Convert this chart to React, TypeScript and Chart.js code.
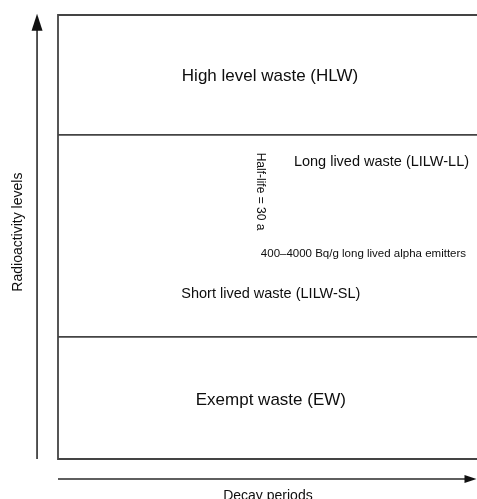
import React, { useEffect, useRef } from "react";
import { Chart, registerables } from "chart.js";

Chart.register(...registerables);

// Band boundaries on the radioactivity axis (0 = bottom, 100 = top)
const bandBounds = [0, 27.5, 73, 100];
// Decay-period axis extent
const decayRange = [0, 100];

// Category labels
const categories = [
  "High level waste (HLW)",
  "Long lived waste (LILW-LL)",
  "Half-life = 30 a",
  "400–4000 Bq/g long lived alpha emitters",
  "Short lived waste (LILW-SL)",
  "Exempt waste (EW)",
];
const labelX = [50.6, 77.2, 48.4, 72.9, 50.8, 50.8];
const labelY = [86.3, 67.0, 60.25, 46.3, 37.2, 13.3];

const yAxisTitle = "Radioactivity levels";
const xAxisTitle = "Decay periods";

const FONT = "'Liberation Sans', Arial, Helvetica, sans-serif";
const labelFont = [17, 14.5, 12, 11.5, 14.5, 17];
const labelRot = [0, 0, 90, 0, 0, 0];

const LINE = "#444444";

const textPlugin = {
  id: "diagramText",
  afterDatasetsDraw(chart: any) {
    const { ctx, scales } = chart;
    const xs = scales.x;
    const ys = scales.y;
    ctx.save();
    ctx.fillStyle = "#0e0e0e";
    ctx.textAlign = "center";
    ctx.textBaseline = "middle";
    categories.forEach((t, i) => {
      const px = xs.getPixelForValue(labelX[i]);
      const py = ys.getPixelForValue(labelY[i]);
      ctx.save();
      ctx.translate(px, py);
      ctx.rotate((labelRot[i] * Math.PI) / 180);
      ctx.font = `${labelFont[i]}px ${FONT}`;
      ctx.fillText(t, 0, 0);
      ctx.restore();
    });
    // axis titles
    ctx.save();
    ctx.translate(xs.getPixelForValue(-9.5), ys.getPixelForValue(51.1));
    ctx.rotate(-Math.PI / 2);
    ctx.font = `14px ${FONT}`;
    ctx.fillText(yAxisTitle, 0, 0);
    ctx.restore();
    ctx.font = `14px ${FONT}`;
    ctx.textBaseline = "alphabetic";
    ctx.fillText(xAxisTitle, xs.getPixelForValue(50.1), ys.getPixelForValue(-9.2));

    // arrowheads
    ctx.fillStyle = "#111";
    const vx = xs.getPixelForValue(-5);
    const vTip = ys.getPixelForValue(100.3);
    ctx.beginPath();
    ctx.moveTo(vx, vTip);
    ctx.lineTo(vx - 5.5, vTip + 17);
    ctx.lineTo(vx + 5.5, vTip + 17);
    ctx.closePath();
    ctx.fill();
    const hy = ys.getPixelForValue(-4.5);
    const hTip = xs.getPixelForValue(decayRange[1]) - 0.5;
    ctx.beginPath();
    ctx.moveTo(hTip, hy);
    ctx.lineTo(hTip - 12, hy - 4);
    ctx.lineTo(hTip - 12, hy + 4);
    ctx.closePath();
    ctx.fill();
    ctx.restore();
  },
};

export default function App() {
  const ref = useRef<HTMLCanvasElement>(null);
  useEffect(() => {
    if (!ref.current) return;
    const top = bandBounds[bandBounds.length - 1];
    const bottom = bandBounds[0];
    const lineDs = (data: { x: number; y: number }[], width = 1.8, color = LINE) => ({
      type: "line" as const,
      data,
      showLine: true,
      borderColor: color,
      borderWidth: width,
      pointRadius: 0,
      fill: false,
      clip: false as any,
      tension: 0,
    });
    const datasets: any[] = [
      // outline: top, left, bottom
      lineDs([
        { x: decayRange[1], y: top },
        { x: decayRange[0], y: top },
        { x: decayRange[0], y: bottom },
        { x: decayRange[1], y: bottom },
      ]),
      // band dividers
      ...bandBounds.slice(1, -1).map((b) =>
        lineDs([
          { x: decayRange[0], y: b },
          { x: decayRange[1], y: b },
        ])
      ),
      // radioactivity arrow shaft
      lineDs(
        [
          { x: -5, y: bottom },
          { x: -5, y: 97 },
        ],
        1.6,
        "#2a2a2a"
      ),
      // decay arrow shaft
      lineDs(
        [
          { x: decayRange[0], y: -4.5 },
          { x: 98, y: -4.5 },
        ],
        1.6,
        "#2a2a2a"
      ),
    ];
    const chart = new Chart(ref.current, {
      type: "scatter",
      data: { datasets },
      options: {
        animation: false,
        responsive: false,
        maintainAspectRatio: false,
        layout: { padding: { left: 58, top: 15, right: 0, bottom: 40 } },
        plugins: { legend: { display: false }, tooltip: { enabled: false } },
        scales: {
          x: { type: "linear", min: decayRange[0], max: decayRange[1], display: false },
          y: { type: "linear", min: bottom, max: top, display: false },
        },
      },
      plugins: [textPlugin],
    });
    return () => chart.destroy();
  }, []);
  return (
    <div style={{ position: "fixed", left: 0, top: 0, width: 477, height: 499, background: "#fff" }}>
      <canvas ref={ref} width={477} height={499} style={{ display: "block" }} />
    </div>
  );
}
